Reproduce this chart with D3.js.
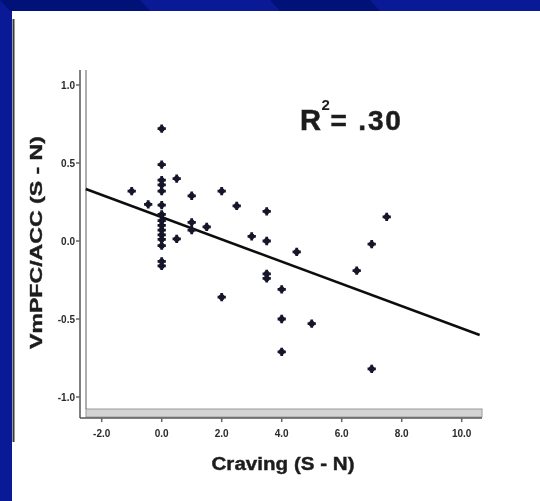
<!DOCTYPE html>
<html>
<head>
<meta charset="utf-8">
<script src="https://cdn.jsdelivr.net/npm/d3@7"></script>
<style>
  body { margin: 0; background: #0a1a96; }
  svg { display: block; }
</style>
</head>
<body>
<script>
// values
var craving = [0, 0, 0, 0, 0, 0, 0, 0, 0, 0, 0, 0, 0, 0, 0,
               -1.0, -0.45, 0.5, 0.5, 1.0, 1.0, 1.0, 1.5, 2.0, 2.0, 2.5, 3.0,
               3.5, 3.5, 3.5, 3.5, 4.0, 4.0, 4.0, 4.5, 5.0, 6.5, 7.0, 7.5, 7.0];
var vmpfc = [0.72, 0.49, 0.39, 0.36, 0.32, 0.23, 0.17, 0.13, 0.10, 0.07, 0.04, 0.01, -0.03, -0.13, -0.16,
             0.32, 0.235, 0.40, 0.013, 0.29, 0.12, 0.07, 0.09, 0.32, -0.36, 0.225, 0.03,
             0.19, 0.0, -0.21, -0.24, -0.31, -0.50, -0.71, -0.07, -0.53, -0.19, -0.02, 0.155, -0.82];

var xTicks = [-2, 0, 2, 4, 6, 8, 10];
var yTicks = [1, 0.5, 0, -0.5, -1];

// linear fit drawn across the plot
var fitIntercept = 0.153, fitSlope = -0.0713;
var fitRange = [-2.53, 10.6];
var rSquared = "= .30";

var xTitle = "Craving (S - N)", yTitle = "VmPFC/ACC (S - N)";

var width = 540, height = 501;

var svg = d3.select("body").append("svg")
    .attr("width", width)
    .attr("height", height);

var defs = svg.append("defs");
defs.append("filter").attr("id", "soft")
  .append("feGaussianBlur").attr("stdDeviation", 0.5);

// slide background
svg.append("rect").attr("width", width).attr("height", height).attr("fill", "#0a1a96");
var stripes = [[0, 140], [270, 370]];
svg.selectAll("polygon.stripe").data(stripes).enter().append("polygon")
    .attr("class", "stripe")
    .attr("points", function(d) { return d[0] + ",0 " + d[1] + ",0 " + (d[1] + 10) + ",11 " + (d[0] + 10) + ",11"; })
    .attr("fill", "#001178");

svg.append("rect").attr("x", 12).attr("y", 11).attr("width", width - 12).attr("height", height - 11)
    .attr("fill", "#ffffff");
svg.append("line").attr("x1", 13.5).attr("x2", 13.5).attr("y1", 19).attr("y2", 442)
    .attr("stroke", "#3a3a3a").attr("stroke-width", 2);

var x = d3.scaleLinear().domain([-2, 10]).range([101.7, 461.7]);
var y = d3.scaleLinear().domain([-1, 1]).range([397, 85]);

var g = svg.append("g").attr("filter", "url(#soft)");

// axis frame, SPSS style double line
g.append("rect").attr("x", 86).attr("y", 409).attr("width", 396).attr("height", 8)
    .attr("fill", "#d4d4d4").attr("stroke", "#9a9a9a").attr("stroke-width", 1);
g.append("line").attr("x1", 80).attr("x2", 482).attr("y1", 418).attr("y2", 418)
    .attr("stroke", "#555").attr("stroke-width", 1.5);
g.append("line").attr("x1", 80).attr("x2", 80).attr("y1", 70).attr("y2", 418)
    .attr("stroke", "#555").attr("stroke-width", 1.5);
g.append("line").attr("x1", 86).attr("x2", 86).attr("y1", 70).attr("y2", 409)
    .attr("stroke", "#777").attr("stroke-width", 1.2);

// ticks + labels
g.selectAll("line.xt").data(xTicks).enter().append("line")
    .attr("class", "xt")
    .attr("x1", function(d) { return x(d); }).attr("x2", function(d) { return x(d); })
    .attr("y1", 418).attr("y2", 422)
    .attr("stroke", "#666").attr("stroke-width", 1.5);
g.selectAll("text.xt").data(xTicks).enter().append("text")
    .attr("class", "xt")
    .attr("x", function(d) { return x(d); })
    .attr("y", 437)
    .attr("text-anchor", "middle")
    .style("font", "bold 10px 'Liberation Sans', Arial, sans-serif")
    .attr("fill", "#2a2a2a")
    .text(function(d) { return d.toFixed(1); });

g.selectAll("line.yt").data(yTicks).enter().append("line")
    .attr("class", "yt")
    .attr("x1", 76).attr("x2", 80)
    .attr("y1", function(d) { return y(d); }).attr("y2", function(d) { return y(d); })
    .attr("stroke", "#666").attr("stroke-width", 1.5);
g.selectAll("text.yt").data(yTicks).enter().append("text")
    .attr("class", "yt")
    .attr("x", 75)
    .attr("y", function(d) { return y(d) + 4; })
    .attr("text-anchor", "end")
    .style("font", "bold 10px 'Liberation Sans', Arial, sans-serif")
    .attr("fill", "#2a2a2a")
    .text(function(d) { return d.toFixed(1); });

// titles
g.append("text")
    .attr("x", 283).attr("y", 470)
    .attr("text-anchor", "middle")
    .attr("textLength", 143).attr("lengthAdjust", "spacingAndGlyphs")
    .style("font", "bold 18px 'Liberation Sans', Arial, sans-serif")
    .attr("fill", "#1e1e1e")
    .attr("stroke", "#1e1e1e").attr("stroke-width", 0.4)
    .text(xTitle);

g.append("text")
    .attr("transform", "translate(42,242.5) rotate(-90)")
    .attr("text-anchor", "middle")
    .attr("textLength", 213).attr("lengthAdjust", "spacingAndGlyphs")
    .style("font", "bold 17px 'Liberation Sans', Arial, sans-serif")
    .attr("fill", "#1e1e1e")
    .attr("stroke", "#1e1e1e").attr("stroke-width", 0.4)
    .text(yTitle);

// R squared, one text with a raised 2
var r2 = g.append("text").attr("x", 300).attr("y", 130)
    .style("font", "bold 29px 'Liberation Sans', Arial, sans-serif")
    .attr("fill", "#1e1e1e").attr("stroke", "#1e1e1e").attr("stroke-width", 0.5);
r2.append("tspan").text("R");
r2.append("tspan").attr("dx", 0.5).attr("dy", -20)
    .style("font-size", "15px").attr("stroke-width", 0)
    .text("2");
r2.append("tspan").attr("dx", 0.8).attr("dy", 20)
    .style("font-size", "28px").style("letter-spacing", "1.8px")
    .text(rSquared);

// fit line
g.append("line")
    .attr("x1", x(fitRange[0])).attr("y1", y(fitIntercept + fitSlope * fitRange[0]))
    .attr("x2", x(fitRange[1])).attr("y2", y(fitIntercept + fitSlope * fitRange[1]))
    .attr("stroke", "#111").attr("stroke-width", 2.5);

// points
var pts = d3.range(craving.length);
var cross = d3.symbol().type(d3.symbolCross).size(38);
var pg = g.selectAll("g.pt").data(pts).enter().append("g")
    .attr("class", "pt")
    .attr("transform", function(i) { return "translate(" + x(craving[i]) + "," + y(vmpfc[i]) + ")"; });
pg.append("path").attr("d", cross).attr("fill", "#14142a");
pg.append("circle").attr("r", 2.9).attr("fill", "#14142a");
</script>
</body>
</html>
